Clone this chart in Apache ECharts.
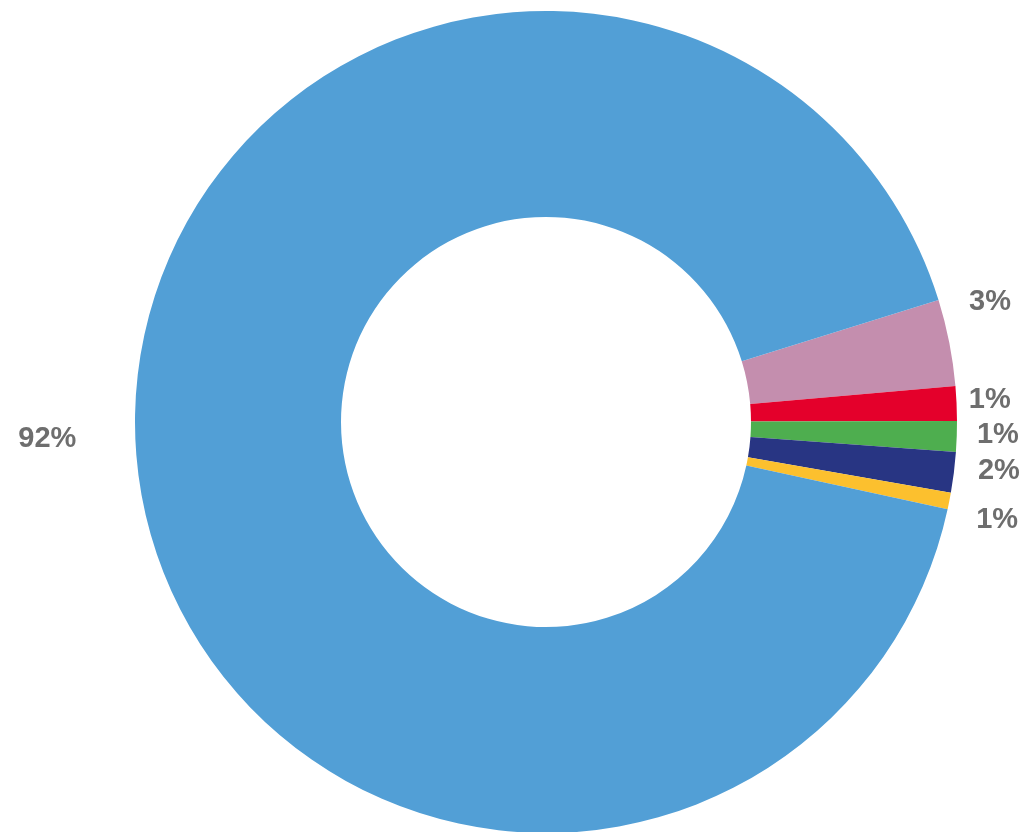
<!DOCTYPE html>
<html>
<head>
<meta charset="utf-8">
<script src="https://cdn.jsdelivr.net/npm/echarts@6/dist/echarts.min.js"></script>
<style>
html,body{margin:0;padding:0;background:#fff;}
#chart{width:1023px;height:832px;}
</style>
</head>
<body>
<div id="chart"></div>
<script>
const categories = ['A', 'B', 'C', 'D', 'E', 'F'];
const values = [3.4, 1.35, 1.2, 1.6, 0.65, 91.8];
const colors = ['#C48EAE', '#E4002B', '#4EAE4F', '#283583', '#FCC02E', '#529FD6'];
// small label nudges (Excel-style "best fit" placement)
const labelShift = [[3, -39], [0, -3], [8, -2], [10, -2], [10, 16], [-42, -1]];

const chart = echarts.init(document.getElementById('chart'), null, {renderer: 'canvas'});
const data = categories.map((c, i) => ({
  name: c,
  value: values[i],
  itemStyle: {color: colors[i]}
}));
chart.setOption({
  animation: false,
  series: [{
    type: 'pie',
    center: [546, 422],
    radius: [205, 411],
    startAngle: 17.25,
    clockwise: true,
    avoidLabelOverlap: true,
    itemStyle: {borderWidth: 0},
    label: {
      show: true,
      position: 'outside',
      formatter: p => Math.round(p.percent) + '%',
      color: '#6E6E6E',
      fontFamily: 'Liberation Sans, Arial, sans-serif',
      fontWeight: 'bold',
      fontSize: 29
    },
    labelLine: {show: false, length: 8, length2: 4},
    labelLayout: p => ({dx: labelShift[p.dataIndex][0], dy: labelShift[p.dataIndex][1]}),
    emphasis: {disabled: true},
    data: data
  }]
});
</script>
</body>
</html>
